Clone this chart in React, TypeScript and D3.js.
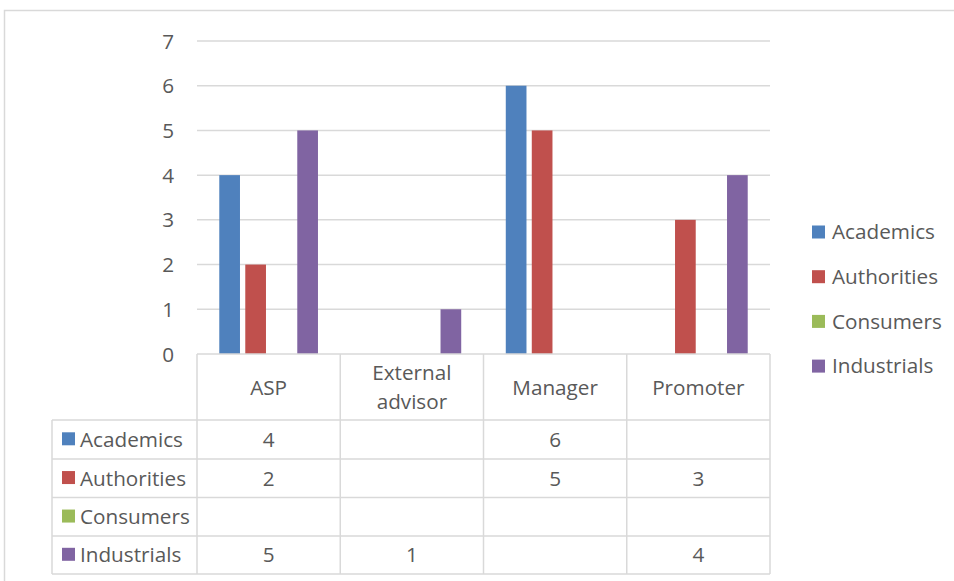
import React from "react";
import * as d3 from "d3";

const categories = ["ASP", "External advisor", "Manager", "Promoter"];
const seriesNames = ["Academics", "Authorities", "Consumers", "Industrials"];
const academics: (number | null)[] = [4, null, 6, null];
const authorities: (number | null)[] = [2, null, 5, 3];
const consumers: (number | null)[] = [null, null, null, null];
const industrials: (number | null)[] = [5, 1, null, 4];
const yTicks = [0, 1, 2, 3, 4, 5, 6, 7];
const colors = ["#4f81bd", "#c0504d", "#9bbb59", "#8064a2"];

const seriesValues = [academics, authorities, consumers, industrials];

const W = 954;
const H = 581;
const left = 197;
const right = 770;
const top = 41;
const bottom = 354;
const headerBottom = 420;
const rowBounds = [420, 459, 497.5, 536, 574];
const labelLeft = 52;
const font = "'Open Sans', sans-serif";
const fs = 20.7;
const textColor = "#595959";
const gridColor = "#d9d9d9";

export default function App() {
  const x0 = d3.scaleBand<string>().domain(categories).range([left, right]).padding(0);
  const x1 = d3
    .scaleBand<string>()
    .domain(seriesNames)
    .range([0, x0.bandwidth()])
    .paddingInner(0.204)
    .paddingOuter(0.857);
  const y = d3.scaleLinear().domain([0, 7]).range([bottom, top]);

  const headerLines = (c: string) => (c === "External advisor" ? ["External", "advisor"] : [c]);

  return (
    <svg
      width={W}
      height={H}
      style={{ position: "absolute", left: 0, top: 0, background: "#fff" }}
      fontFamily={font}
    >
      <rect x={4.5} y={10.5} width={1000} height={700} fill="#fff" stroke={gridColor} strokeWidth={1.5} />
      {/* gridlines */}
      {yTicks.map((t) =>
        t === 0 ? null : (
          <line key={"g" + t} x1={left} x2={right} y1={y(t)} y2={y(t)} stroke={gridColor} strokeWidth={1.5} />
        )
      )}
      {yTicks.map((t) => (
        <text
          key={"yl" + t}
          x={174}
          y={y(t) - 0.5}
          textAnchor="end"
          dominantBaseline="central"
          fontSize={fs}
          fill={textColor}
        >
          {t}
        </text>
      ))}
      {/* bars */}
      {categories.map((c, ci) =>
        seriesNames.map((s, si) => {
          const v = seriesValues[si][ci];
          if (v == null) return null;
          return (
            <rect
              key={c + s}
              x={(x0(c) as number) + (x1(s) as number)}
              y={y(v)}
              width={x1.bandwidth()}
              height={y(0) - y(v)}
              fill={colors[si]}
            />
          );
        })
      )}
      {/* table */}
      <g stroke={gridColor} strokeWidth={1.5}>
        <line x1={left} x2={right} y1={bottom} y2={bottom} />
        {rowBounds.map((rb, i) => (
          <line key={"rb" + i} x1={labelLeft} x2={right} y1={rb} y2={rb} />
        ))}
        <line x1={labelLeft} x2={labelLeft} y1={headerBottom} y2={rowBounds[rowBounds.length - 1]} />
        {categories.map((c) => (
          <line key={"v" + c} x1={x0(c)} x2={x0(c)} y1={bottom} y2={rowBounds[rowBounds.length - 1]} />
        ))}
        <line x1={right} x2={right} y1={bottom} y2={rowBounds[rowBounds.length - 1]} />
      </g>
      {categories.map((c) => {
        const lines = headerLines(c);
        const cx = (x0(c) as number) + x0.bandwidth() / 2;
        const cy = (bottom + headerBottom) / 2 - 0.5;
        return lines.map((l, li) => (
          <text
            key={c + li}
            x={cx}
            y={cy + (li - (lines.length - 1) / 2) * 29}
            textAnchor="middle"
            dominantBaseline="central"
            fontSize={fs}
            fill={textColor}
          >
            {l}
          </text>
        ));
      })}
      {seriesNames.map((s, si) => {
        const cy = (rowBounds[si] + rowBounds[si + 1]) / 2 - 0.7;
        return (
          <g key={"row" + s}>
            <rect x={62} y={cy - 6.5} width={13} height={13} fill={colors[si]} />
            <text x={80} y={cy} dominantBaseline="central" fontSize={fs} fill={textColor}>
              {s}
            </text>
            {categories.map((c, ci) => {
              const v = seriesValues[si][ci];
              if (v == null) return null;
              return (
                <text
                  key={"cell" + c}
                  x={(x0(c) as number) + x0.bandwidth() / 2}
                  y={cy}
                  textAnchor="middle"
                  dominantBaseline="central"
                  fontSize={fs}
                  fill={textColor}
                >
                  {v}
                </text>
              );
            })}
          </g>
        );
      })}
      {/* legend */}
      {seriesNames.map((s, si) => {
        const cy = 232 + si * 44.7;
        return (
          <g key={"leg" + s}>
            <rect x={812} y={cy - 6.5} width={13} height={13} fill={colors[si]} />
            <text x={832} y={cy - 0.7} dominantBaseline="central" fontSize={fs} fill={textColor}>
              {s}
            </text>
          </g>
        );
      })}
    </svg>
  );
}
